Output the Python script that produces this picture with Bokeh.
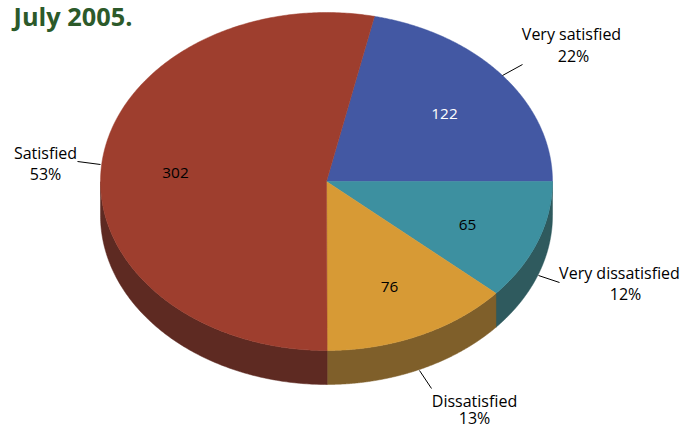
import numpy as np
from bokeh.plotting import figure
from bokeh.embed import file_html
from bokeh.resources import INLINE
from bokeh.models import Range1d
from bokeh.core.properties import value

categories = ["Very satisfied", "Very dissatisfied", "Dissatisfied", "Satisfied"]
counts = [122, 65, 76, 302]
percents = ["22%", "12%", "13%", "53%"]
top_colors = ["#4358A3", "#3D90A0", "#D79A35", "#9E3E2E"]
side_colors = ["#2B3A6E", "#2F5A5E", "#7F5F2A", "#5E2A22"]
count_colors = ["white", "black", "black", "black"]
title_text = "July 2005."

W, H = 694, 428
CX, CY, RX, RY, DEPTH = 327, H - 181, 226, 169, 34
FONT = value("Open Sans")

p = figure(width=W, height=H, output_backend="svg", toolbar_location=None,
           x_range=Range1d(1, W + 1), y_range=Range1d(0, H), min_border=0,
           outline_line_color=None, background_fill_color="white")
p.axis.visible = False
p.grid.visible = False

total = sum(counts)
edges = [2 * np.pi * counts[0] / total]
for c in counts:
    edges.append(edges[-1] - 2 * np.pi * c / total)

def ell(t, dy=0):
    return CX + RX * np.cos(t), CY + RY * np.sin(t) - dy

for i in range(len(counts)):
    t = np.linspace(edges[i], edges[i + 1], 300)
    t = t[np.sin(t) <= 0]
    if len(t) < 2:
        continue
    xs, ys = ell(t)
    xb, yb = ell(t[::-1], DEPTH)
    p.patch(np.r_[xs, xb], np.r_[ys, yb], fill_color=side_colors[i], line_color=side_colors[i], line_width=0.5)

for i in range(len(counts)):
    t = np.linspace(edges[i], edges[i + 1], 300)
    xs, ys = ell(t)
    p.patch(np.r_[CX, xs], np.r_[CY, ys], fill_color=top_colors[i], line_color=top_colors[i], line_width=0.5)

count_pos = [(445, 113), (468, 224), (390, 286), (176, 172)]
for i, (x, y) in enumerate(count_pos):
    p.text([x], [H - y], text=[str(counts[i])], text_color=count_colors[i], text_align="center",
           text_baseline="middle", text_font=FONT, text_font_size="11.5pt")

p.text([14], [H - 15], text=[title_text], text_color="#2C5A2A", text_font=FONT,
       text_font_style="bold", text_font_size="19pt", text_baseline="middle")

leaders = [((503, 523), (75, 64)), ((539, 560), (275, 282)),
           ((420, 432), (370, 388)), ((78, 101), (161, 164))]
for xs, ys in leaders:
    p.line(list(xs), [H - y for y in ys], line_color="black", line_width=1)

name_pos = [(572, 33), (620, 272), (475, 400), (46, 152)]
pct_pos = [(574, 55), (626, 293), (475, 417), (46, 173)]
for i in range(len(categories)):
    p.text([name_pos[i][0]], [H - name_pos[i][1]], text=[categories[i]], text_align="center",
           text_baseline="middle", text_color="black", text_font=FONT, text_font_size="12pt")
    p.text([pct_pos[i][0]], [H - pct_pos[i][1]], text=[percents[i]], text_align="center",
           text_baseline="middle", text_color="black", text_font=FONT, text_font_size="12pt")

open("out.html", "w").write(file_html(p, INLINE))
